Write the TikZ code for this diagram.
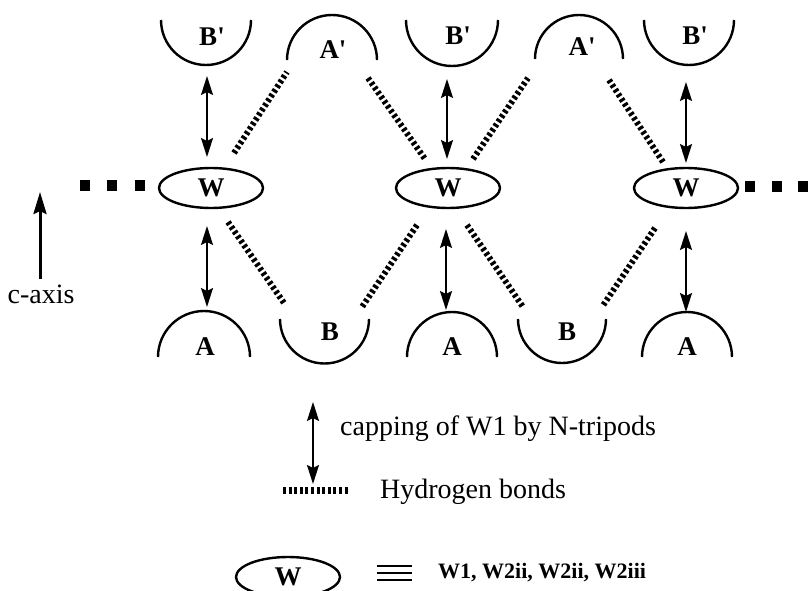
\documentclass[tikz,border=0pt]{standalone}
\usepackage{fontspec}
\setmainfont{Liberation Serif}
\newfontfamily\labelfont{Liberation Serif}
\usetikzlibrary{shapes.geometric,arrows.meta}
\begin{document}
\begin{tikzpicture}[x=1pt,y=1pt,
  wnode/.style={draw,ellipse,line width=2.4pt,minimum width=104pt,minimum height=40pt,inner sep=0pt,font=\labelfont\fontsize{27}{27}\selectfont\bfseries},
  lbl/.style={inner sep=0pt,font=\labelfont\fontsize{27}{27}\selectfont\bfseries},
  arcline/.style={line width=2.4pt},
  capping/.style={line width=2pt,{Stealth[length=19pt,width=12pt,inset=3pt]}-{Stealth[length=19pt,width=12pt,inset=3pt]}},
  hbond/.style={line width=6pt,dash pattern=on 3pt off 2.6pt},
  sq/.style={fill=black,minimum width=10pt,minimum height=11pt,inner sep=0pt},
  txt/.style={inner sep=0pt,font=\fontsize{28}{28}\selectfont}]
\useasboundingbox (0,0) rectangle (808,-591);

% W nodes
\node[wnode] (w1) at (211,-188) {W};
\node[wnode] (w2) at (448,-188) {W};
\node[wnode] (w3) at (686,-188) {W};

% chain squares
\node[sq] (s1) at (85,-185) {};
\node[sq] (s2) at (112,-185) {};
\node[sq] (s3) at (140,-185) {};
\node[sq] (s4) at (750,-186) {};
\node[sq] (s5) at (777,-186) {};
\node[sq] (s6) at (803,-186) {};

% top row arcs: B' (cups) and A' (caps)
\draw[arcline] (161,-20) arc[start angle=180,end angle=360,radius=45pt];
\draw[arcline] (406,-20) arc[start angle=180,end angle=360,radius=46pt];
\draw[arcline] (644,-20) arc[start angle=180,end angle=360,radius=45pt];
\draw[arcline] (287,-60) arc[start angle=180,end angle=0,radius=45pt];
\draw[arcline] (535,-59) arc[start angle=180,end angle=0,radius=44pt];
\node[lbl] (bp1) at (212,-37) {B'};
\node[lbl] (bp2) at (458,-36) {B'};
\node[lbl] (bp3) at (695,-36) {B'};
\node[lbl] (ap1) at (333,-50) {A'};
\node[lbl] (ap2) at (582,-47) {A'};

% bottom row arcs: A (caps) and B (cups)
\draw[arcline] (158,-357) arc[start angle=180,end angle=0,radius=46pt];
\draw[arcline] (407,-357) arc[start angle=180,end angle=0,radius=45pt];
\draw[arcline] (642,-357) arc[start angle=180,end angle=0,radius=45pt];
\draw[arcline] (280,-319) arc[start angle=180,end angle=360,radius=44.5pt];
\draw[arcline] (518,-319) arc[start angle=180,end angle=360,radius=44pt];
\node[lbl] (a1) at (205,-347) {A};
\node[lbl] (a2) at (452,-347) {A};
\node[lbl] (a3) at (687,-347) {A};
\node[lbl] (b1) at (330,-332) {B};
\node[lbl] (b2) at (567,-332) {B};

% connector end points
\coordinate (t1a) at (207,-76);  \coordinate (t1b) at (207,-157);
\coordinate (t2a) at (447,-79);  \coordinate (t2b) at (447,-159);
\coordinate (t3a) at (686,-82);  \coordinate (t3b) at (686,-163);
\coordinate (u1a) at (207,-226); \coordinate (u1b) at (207,-307);
\coordinate (u2a) at (446,-229); \coordinate (u2b) at (446,-310);
\coordinate (u3a) at (686,-231); \coordinate (u3b) at (686,-312);

% capping arrows
\draw[capping] (t1a) -- (t1b);
\draw[capping] (t2a) -- (t2b);
\draw[capping] (t3a) -- (t3b);
\draw[capping] (u1a) -- (u1b);
\draw[capping] (u2a) -- (u2b);
\draw[capping] (u3a) -- (u3b);

% hydrogen bonds
\coordinate (h1a) at (234,-153); \coordinate (h1b) at (287,-72);
\coordinate (h2a) at (368,-78);  \coordinate (h2b) at (425,-159);
\coordinate (h3a) at (473,-159); \coordinate (h3b) at (528,-78);
\coordinate (h4a) at (609,-80);  \coordinate (h4b) at (663,-162);
\coordinate (h5a) at (228,-222); \coordinate (h5b) at (284,-303);
\coordinate (h6a) at (417,-225); \coordinate (h6b) at (362,-307);
\coordinate (h7a) at (467,-225); \coordinate (h7b) at (523,-307);
\coordinate (h8a) at (655,-228); \coordinate (h8b) at (602,-307);
\draw[hbond] (h1a) -- (h1b);
\draw[hbond] (h2a) -- (h2b);
\draw[hbond] (h3a) -- (h3b);
\draw[hbond] (h4a) -- (h4b);
\draw[hbond] (h5a) -- (h5b);
\draw[hbond] (h6a) -- (h6b);
\draw[hbond] (h7a) -- (h7b);
\draw[hbond] (h8a) -- (h8b);

% c-axis
\coordinate (ca) at (40,-279);
\coordinate (cb) at (40,-192);
\draw[line width=3pt,-{Stealth[length=22pt,width=13pt,inset=3pt]}] (ca) -- (cb);
\node[txt] (caxis) at (41,-294) {c-axis};

% legend
\coordinate (l1a) at (313,-402); \coordinate (l1b) at (313,-484);
\draw[capping] (l1a) -- (l1b);
\node[txt,anchor=west] (l1t) at (340,-429) {capping of W1 by N-tripods};
\coordinate (l2a) at (283,-490); \coordinate (l2b) at (349,-490);
\draw[line width=7pt,dash pattern=on 3pt off 2.6pt] (l2a) -- (l2b);
\node[txt,anchor=west] (l2t) at (380,-492) {Hydrogen bonds};
\node[wnode] (lw) at (288,-577) {W};
\draw[line width=2.8pt] (377,-566) -- (412,-566) (377,-573) -- (412,-573) (377,-580) -- (412,-580);
\node[inner sep=0pt,anchor=west,font=\labelfont\fontsize{22}{22}\selectfont\bfseries] (l3t) at (438,-573) {W1, W2ii, W2ii, W2iii};
\end{tikzpicture}
\end{document}
